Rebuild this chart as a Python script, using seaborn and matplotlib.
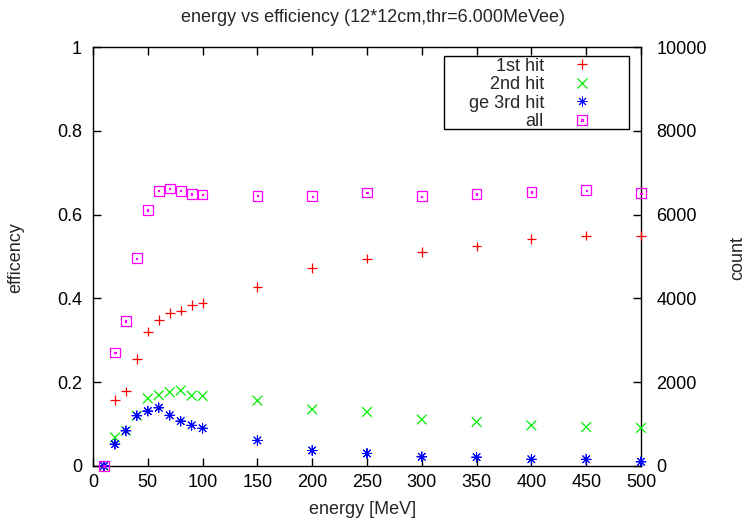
import matplotlib
matplotlib.use("Agg")
import matplotlib.pyplot as plt
import seaborn as sns
import pandas as pd
from matplotlib.path import Path
from matplotlib.lines import Line2D
from matplotlib.patches import Rectangle

energy = [10, 20, 30, 40, 50, 60, 70, 80, 90, 100, 150, 200, 250, 300, 350, 400, 450, 500]
hit1 = [0, 0.158, 0.178, 0.256, 0.321, 0.348, 0.366, 0.371, 0.385, 0.389,
        0.428, 0.473, 0.495, 0.511, 0.524, 0.542, 0.550, 0.550]
hit2 = [0, 0.068, 0.084, 0.120, 0.161, 0.169, 0.176, 0.180, 0.168, 0.167,
        0.156, 0.135, 0.129, 0.111, 0.105, 0.097, 0.093, 0.091]
hit3 = [0, 0.052, 0.084, 0.120, 0.131, 0.139, 0.121, 0.107, 0.097, 0.090,
        0.061, 0.037, 0.030, 0.022, 0.021, 0.016, 0.016, 0.010]
hit_all = [0, 0.271, 0.346, 0.496, 0.611, 0.657, 0.662, 0.657, 0.649, 0.648,
           0.645, 0.644, 0.653, 0.644, 0.649, 0.654, 0.658, 0.651]
labels = ["1st hit", "2nd hit", "ge 3rd hit", "all"]
colors = ["#ff0000", "#00ee00", "#0000ff", "#ff00ff"]
xticks = [0, 50, 100, 150, 200, 250, 300, 350, 400, 450, 500]
yticks = [0, 0.2, 0.4, 0.6, 0.8, 1.0]
ytick_labels = ["0", "0.2", "0.4", "0.6", "0.8", "1"]
y2ticks = [0, 2000, 4000, 6000, 8000, 10000]

sns.set_theme(style="white")
plt.rcParams["font.family"] = ["Liberation Sans", "DejaVu Sans"]
FS = 13

# square-with-dot marker (gnuplot style)
sq = Path([(-1, -1), (1, -1), (1, 1), (-1, 1), (-1, -1)],
          [Path.MOVETO, Path.LINETO, Path.LINETO, Path.LINETO, Path.CLOSEPOLY])
d = 0.12
dot = Path([(-d, -d), (d, -d), (d, d), (-d, d), (-d, -d)],
           [Path.MOVETO, Path.LINETO, Path.LINETO, Path.LINETO, Path.CLOSEPOLY])
box_marker = Path.make_compound_path(sq, dot)
markers = ["+", "x", (8, 2, 0), box_marker]
widths = [0.9, 0.9, 0.7, 0.9]

fig = plt.figure(figsize=(7.46, 5.22), dpi=100)
ax = fig.add_axes([93 / 746, 56 / 522, 548 / 746, 419 / 522])

series = [hit1, hit2, hit3, hit_all]
msize = 7
for vals, lab, col, mk, lw in zip(series, labels, colors, markers, widths):
    df = pd.DataFrame({"energy": energy, "eff": vals})
    sns.scatterplot(data=df, x="energy", y="eff", ax=ax, marker=mk, s=msize ** 2,
                    color=col, linewidth=lw, legend=False, clip_on=False, zorder=3)
    coll = ax.collections[-1]
    coll.set_facecolor("none")
    coll.set_edgecolor(col)
    coll.set_linewidth(lw)
    coll.set_clip_on(False)

ax.set_xlim(0, 500)
ax.set_ylim(0, 1)
ax.set_xticks(xticks)
ax.set_xticklabels([str(v) for v in xticks])
ax.set_yticks(yticks)
ax.set_yticklabels(ytick_labels)
ax.set_xlabel("")
ax.set_ylabel("")
ax.tick_params(axis="x", which="both", direction="in", length=6, width=1, color="black",
               top=True, bottom=True, labelsize=FS, pad=6, labelcolor="black")
ax.tick_params(axis="y", which="both", direction="in", length=6, width=1, color="black",
               left=True, right=False, labelsize=FS, pad=8, labelcolor="black")
for sp in ax.spines.values():
    sp.set_visible(True)
    sp.set_color("black")
    sp.set_linewidth(1)

ax2 = ax.twinx()
ax2.set_ylim(0, 10000)
ax2.set_yticks(y2ticks)
ax2.set_yticklabels([str(v) for v in y2ticks])
ax2.tick_params(axis="y", direction="in", length=6, width=1, color="black",
                right=True, left=False, labelsize=FS, pad=11, labelcolor="black")
for sp in ax2.spines.values():
    sp.set_visible(False)
ax2.grid(False)
ax.grid(False)

fig.text(0.5, 1 - 18 / 522, "energy vs efficiency (12*12cm,thr=6.000MeVee)",
         ha="center", va="center", fontsize=FS)
fig.text(363 / 746, 1 - 510 / 522, "energy [MeV]", ha="center", va="center", fontsize=FS)
fig.text(16 / 746, 1 - 258 / 522, "efficency", ha="center", va="center",
         rotation=90, fontsize=FS)
fig.text(738 / 746, 1 - 258 / 522, "count", ha="center", va="center",
         rotation=90, fontsize=FS)

# legend
handles = [Line2D([], [], linestyle="none", marker=mk, color=col, markersize=msize,
                  markerfacecolor="none", markeredgecolor=col, markeredgewidth=lw)
           for mk, col, lw in zip(markers, colors, widths)]
ax2.add_patch(Rectangle(((444 - 93) / 548, (466 - 129) / 419), (629 - 444) / 548,
                        (129 - 56) / 419, transform=ax.transAxes, fill=False,
                        edgecolor="black", linewidth=1, zorder=5, clip_on=False))
leg = ax2.legend(handles, labels, loc="upper right",
                 bbox_to_anchor=((609 - 93) / 548, (466 - 48.5) / 419),
                 bbox_transform=ax.transAxes, frameon=False, markerfirst=False,
                 handlelength=2.0, handletextpad=1.1, borderpad=0,
                 labelspacing=0.09, fontsize=FS)

fig.savefig("out.png", dpi=100)
